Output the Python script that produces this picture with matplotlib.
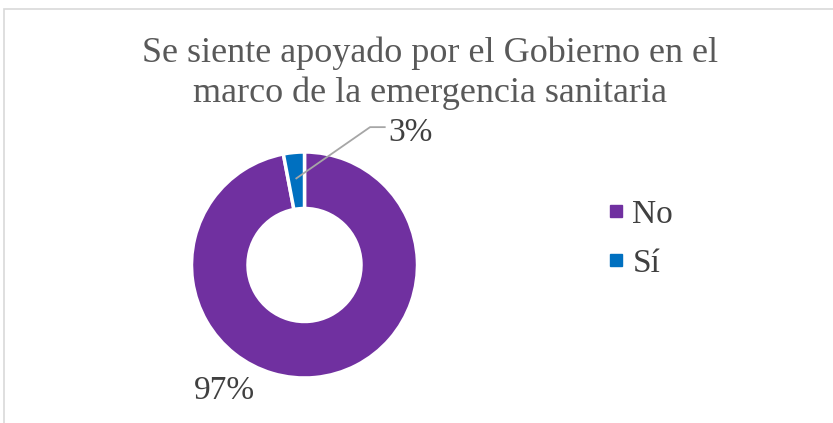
import matplotlib.pyplot as plt
from matplotlib.lines import Line2D
from matplotlib.patches import Rectangle
import numpy as np

plt.rcParams['font.family'] = ['Liberation Serif', 'DejaVu Serif']

title = 'Se siente apoyado por el Gobierno en el\nmarco de la emergencia sanitaria'
labels = ['No', 'Sí']
values = [97, 3]
colors = ['#7030A0', '#0070C0']
txt = '#404040'

W, H = 833, 423
fig = plt.figure(figsize=(W / 100, H / 100), dpi=100)

# chart border
fig.patches.append(Rectangle((4 / W, -0.1), 1.2, (H - 9) / H + 0.1, transform=fig.transFigure,
                             fill=False, edgecolor='#d9d9d9', linewidth=1.2))

fig.text(430 / W, 1 - 73 / H, title, ha='center', va='center', fontsize=26,
         color='#595959', linespacing=1.27)

# donut
cx, cy, r = 304.5, 265, 113
ax = fig.add_axes([(cx - r) / W, (H - cy - r) / H, 2 * r / W, 2 * r / H])
wedges, _ = ax.pie(values, colors=colors, startangle=90, counterclock=False,
                   wedgeprops=dict(width=0.5, edgecolor='white', linewidth=2.5))
ax.set_xlim(-1, 1)
ax.set_ylim(-1, 1)
ax.set_aspect('auto')
ax.axis('off')

# labels with leader line for the small slice
w_si = wedges[1]
ang = np.deg2rad((w_si.theta1 + w_si.theta2) / 2)
px, py = 0.77 * np.cos(ang), 0.77 * np.sin(ang)
ax.plot([px, 0.58, 0.71], [py, 1.22, 1.22], color='#a6a6a6', lw=1.3, clip_on=False)
ax.text(0.94, 1.17, f'{values[1]}%', ha='center', va='center', fontsize=24, color=txt)
ax.text(-0.71, -1.11, f'{values[0]}%', ha='center', va='center', fontsize=24, color=txt)

handles = [Line2D([], [], marker='s', linestyle='none', markersize=9, color=c) for c in colors]
fig.legend(handles, labels, loc='center left', bbox_to_anchor=(599 / W, 1 - 239 / H),
           frameon=False, fontsize=24, labelcolor=txt, handletextpad=0.0,
           labelspacing=0.55, handlelength=1.0, borderpad=0, borderaxespad=0)

fig.savefig('out.png', dpi=100)
